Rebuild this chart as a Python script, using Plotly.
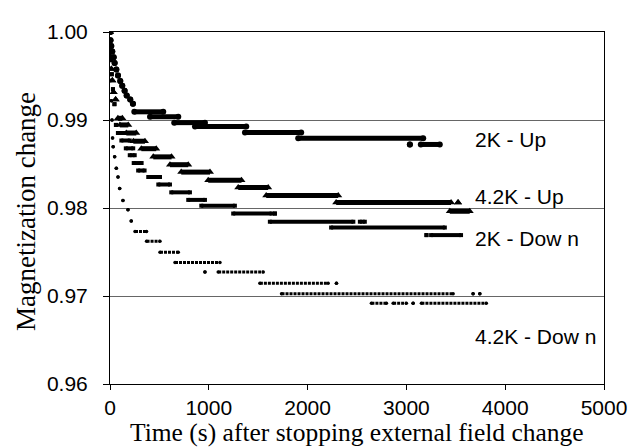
import plotly.graph_objects as go

# ---- data: each series = runs of (start time, end time, value); single readings have start == end ----
# 2K - Up (circles)
up2_start = [3, 5, 13, 23, 37, 47, 64, 81, 104, 124, 148, 169, 205, 232, 246, 405, 650, 860, 1366, 1905, 3035, 3146]
up2_end   = [3, 5, 13, 23, 37, 47, 64, 81, 104, 124, 148, 169, 205, 232, 539, 691, 961, 1379, 1935, 3170, 3035, 3338]
up2_value = [1.0, 0.99907, 0.99841, 0.99778, 0.99714, 0.99648, 0.99574, 0.99507, 0.99444, 0.99389,
             0.99333, 0.99278, 0.99233, 0.99185, 0.99093, 0.99037, 0.98970, 0.98926, 0.98859, 0.98794,
             0.98722, 0.98722]

# 4.2K - Up (triangles)
up42_start = [0, 6, 14, 24, 37, 57, 80, 100, 165, 236, 317, 438, 607, 721, 994, 1298, 1581, 2289, 3523, 3439]
up42_end   = [0, 6, 14, 24, 37, 57, 125, 185, 266, 354, 468, 623, 792, 1012, 1331, 1601, 2310, 3452, 3523, 3641]
up42_value = [1.0, 0.99720, 0.99580, 0.99450, 0.99315, 0.99233, 0.99019, 0.98944, 0.98852, 0.98759,
              0.98674, 0.98581, 0.98492, 0.98408, 0.98314, 0.98233, 0.98141, 0.98063, 0.98063, 0.97963]

# 2K - Down (squares)
dn2_start = [0, 8, 18, 30, 45, 60, 80, 115, 160, 200, 240, 285, 387, 489, 620, 792, 924, 1247, 1669, 1618,
             2529, 2238, 3203, 3250]
dn2_end   = [0, 8, 18, 30, 45, 60, 150, 200, 235, 250, 320, 350, 506, 607, 809, 961, 1264, 1635, 1669, 2463,
             2579, 3389, 3203, 3553]
dn2_value = [1.0, 0.99680, 0.99520, 0.99350, 0.99180, 0.98944, 0.98852, 0.98767, 0.98678, 0.98600,
             0.98511, 0.98426, 0.98352, 0.98267, 0.98178, 0.98092, 0.98026, 0.97937, 0.97937, 0.97844,
             0.97844, 0.97778, 0.97692, 0.97692]

# 4.2K - Down (small dots)
dn42_start = [0, 5, 10, 15, 20, 26, 32, 47, 64, 81, 98, 131, 182, 215, 253, 370, 506, 658, 961, 1095,
              1517, 2292, 1736, 3675, 3743, 2646, 2866, 3068, 3152]
dn42_end   = [0, 5, 10, 15, 20, 26, 32, 47, 64, 81, 98, 131, 182, 215, 370, 506, 691, 1113, 961, 1551,
              2208, 2292, 3473, 3675, 3743, 2798, 3000, 3068, 3809]
dn42_value = [1.0, 0.99680, 0.99450, 0.99220, 0.99000, 0.98796, 0.98696, 0.98581, 0.98452, 0.98352,
              0.98222, 0.98085, 0.97981, 0.97852, 0.97733, 0.97622, 0.97497, 0.97381, 0.97274, 0.97274,
              0.97144, 0.97144, 0.97026, 0.97026, 0.97026, 0.96919, 0.96919, 0.96919, 0.96919]

series_labels = ["2K - Up", "4.2K - Up", "2K - Dow n", "4.2K - Dow n"]
label_x = [3670, 3670, 3670, 3670]
label_y = [0.98778, 0.98130, 0.97656, 0.96544]

x_ticks = [0, 1000, 2000, 3000, 4000, 5000]
y_ticks = [0.96, 0.97, 0.98, 0.99, 1.00]


def runs(starts, ends, values):
    xs, ys = [], []
    for s, e, v in zip(starts, ends, values):
        xs += [s, e, None]
        ys += [v, v, None]
    return xs, ys


fig = go.Figure()

styles = [
    (up2_start, up2_end, up2_value, dict(symbol="circle", size=6), 5, "solid"),
    (up42_start, up42_end, up42_value, dict(symbol="triangle-up", size=7), 5, "solid"),
    (dn2_start, dn2_end, dn2_value, dict(symbol="square", size=4), 4, "solid"),
    (dn42_start, dn42_end, dn42_value, dict(symbol="circle", size=3.5), 3, "3px,1px"),
]
for (s, e, v, mk, lw, dash), name in zip(styles, series_labels):
    xs, ys = runs(s, e, v)
    fig.add_trace(go.Scatter(
        x=xs, y=ys, mode="lines+markers", name=name,
        line=dict(color="black", width=lw, dash=dash),
        marker=dict(color="black", line=dict(width=0), **mk),
        connectgaps=False, hoverinfo="skip",
    ))

for t, lx, ly in zip(series_labels, label_x, label_y):
    fig.add_annotation(x=lx, y=ly, text=t, showarrow=False, xanchor="left", yanchor="middle",
                       font=dict(family="Liberation Sans", size=21, color="black"))

fig.add_annotation(x=0.5, y=-0.1385, xref="paper", yref="paper", showarrow=False,
                   text="Time (s) after stopping external field change",
                   xanchor="center", yanchor="middle",
                   font=dict(family="Liberation Serif", size=25.5, color="black"))
fig.add_annotation(x=-0.171, y=0.49, xref="paper", yref="paper", showarrow=False,
                   text="Magnetization change", textangle=-90,
                   xanchor="center", yanchor="middle",
                   font=dict(family="Liberation Serif", size=27, color="black"))

fig.update_layout(
    width=637, height=448,
    margin=dict(l=102, r=41, t=15, b=72),
    paper_bgcolor="white", plot_bgcolor="white",
    showlegend=False,
    font=dict(family="Liberation Sans", color="black"),
)
fig.update_xaxes(
    range=[0, 5000], tickvals=x_ticks, ticktext=[str(v) for v in x_ticks],
    showgrid=False, zeroline=False,
    showline=True, linecolor="black", linewidth=1, mirror=True,
    ticks="outside", ticklen=5, tickcolor="black", ticklabelstandoff=0,
    tickfont=dict(family="Liberation Sans", size=21, color="black"),
)
fig.update_yaxes(
    range=[0.96, 1.00], tickvals=y_ticks, ticktext=[f"{v:.2f}" for v in y_ticks],
    showgrid=True, gridcolor="#666666", gridwidth=1, zeroline=False,
    showline=True, linecolor="black", linewidth=1, mirror=True,
    ticks="outside", ticklen=6, tickcolor="black", ticklabelstandoff=11,
    tickfont=dict(family="Liberation Sans", size=21, color="black"),
)

fig.write_html("out.html")
